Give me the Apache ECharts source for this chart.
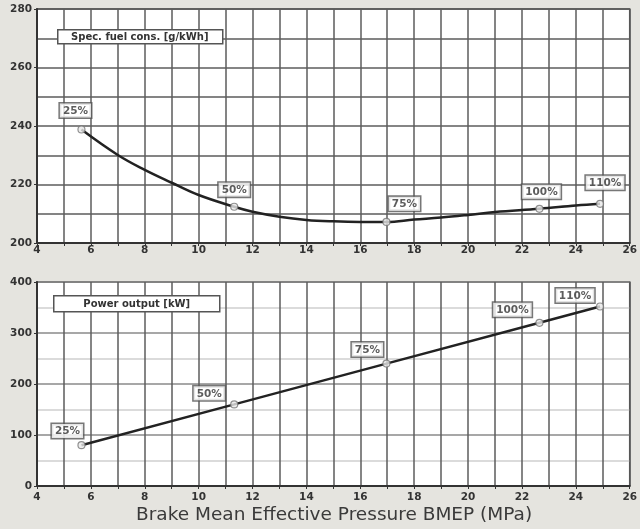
<!DOCTYPE html>
<html><head><meta charset="utf-8">
<script src="https://cdn.jsdelivr.net/npm/echarts@6/dist/echarts.min.js"></script>
<style>html,body{margin:0;padding:0;background:#e5e4df;}#c{width:640px;height:529px;}</style>
</head><body><div id="c"></div>
<script>
// ---- data ----
const loadLabels = ['25%', '50%', '75%', '100%', '110%'];
const bmepPoints = [5.65, 11.32, 16.97, 22.65, 24.9];
const sfcPoints = [238.8, 212.4, 207.2, 211.7, 213.4];
const powerPoints = [80, 160, 240, 320, 352];
// fuel-consumption curve
const sfcCurveX = [5.65, 7, 8, 9, 10, 11.32, 12, 13, 14, 15, 16, 16.97, 18, 19, 20, 21, 22.65, 24, 24.9];
const sfcCurveY = [238.8, 230.1, 225.0, 220.6, 216.4, 212.4, 210.7, 209.0, 207.9, 207.4, 207.2, 207.2, 208.0, 208.7, 209.6, 210.6, 211.7, 212.8, 213.4];
const xTicks = [4, 6, 8, 10, 12, 14, 16, 18, 20, 22, 24, 26];
const sfcTicks = [200, 220, 240, 260, 280];
const powerTicks = [0, 100, 200, 300, 400];

// ---- layout (label offsets) ----
const topOffsets = [[-6, -8], [0, -6], [18, -7], [2, -6], [5, -10]];
const botOffsets = [[-14, -3], [-25, 0], [-19, -3], [-27, -2], [-25, 0]];

const labelFont = {fontFamily: 'DejaVu Sans', fontWeight: 'bold', fontSize: 10.5, color: '#333'};
function pointData(ys, offs) {
  return bmepPoints.map((x, i) => ({
    value: [x, ys[i]],
    label: {offset: offs[i]}
  }));
}
const pointLabel = {
  show: true, position: 'top', distance: 0,
  formatter: p => loadLabels[p.dataIndex],
  backgroundColor: '#fff', borderColor: '#555', borderWidth: 1.5,
  padding: [1, 3, 0, 3], lineHeight: 13, ...labelFont, fontSize: 10.5
};
const gridDark = '#5c5c5c';
function xAxis(gi, margin) {
  return {
    type: 'value', gridIndex: gi, min: xTicks[0], max: xTicks[xTicks.length - 1], interval: 2,
    axisLine: {show: true, onZero: false, lineStyle: {color: '#333', width: 2}},
    axisTick: {show: true, length: 3, lineStyle: {color: '#333'}},
    minorTick: {show: true, splitNumber: 2, length: 3, lineStyle: {color: '#333'}},
    splitLine: {show: true, lineStyle: {color: gridDark, width: 1.5}},
    minorSplitLine: {show: true, lineStyle: {color: gridDark, width: 1.5}},
    axisLabel: {margin: margin, ...labelFont, fontSize: 10.5}
  };
}
function yAxis(gi, ticks, majorColor, minorColor) {
  return {
    type: 'value', gridIndex: gi, min: ticks[0], max: ticks[ticks.length - 1],
    interval: ticks[1] - ticks[0],
    axisLine: {show: true, onZero: false, lineStyle: {color: '#333', width: 2}},
    axisTick: {show: true, length: 3, lineStyle: {color: '#333'}},
    minorTick: {show: false, splitNumber: 2},
    splitLine: {show: true, lineStyle: {color: majorColor, width: 1.5}},
    minorSplitLine: {show: true, lineStyle: {color: minorColor, width: 1.5}},
    axisLabel: {margin: 5, ...labelFont, fontSize: 10.5}
  };
}
const chart = echarts.init(document.getElementById('c'), null, {renderer: 'canvas'});
chart.setOption({
  backgroundColor: '#e5e4df',
  animation: false,
  grid: [
    {left: 37, right: 8, top: 9, height: 234, show: true, backgroundColor: '#fff', borderColor: '#444', borderWidth: 1.5},
    {left: 37, right: 7, top: 282, height: 204, show: true, backgroundColor: '#fff', borderColor: '#444', borderWidth: 1.5}
  ],
  xAxis: [xAxis(0, 2), xAxis(1, 6)],
  yAxis: [yAxis(0, sfcTicks, gridDark, gridDark), yAxis(1, powerTicks, '#8a8a8a', '#cfcfcf')],
  graphic: [
    {type: 'group', left: 57, top: 29, z: 20, children: [
      {type: 'rect', z: 20, shape: {x: 0, y: 0, width: 165, height: 14}, style: {fill: '#fff', stroke: '#555', lineWidth: 1.5}},
      {type: 'text', z: 21, x: 82, y: 7.5, style: {text: 'Spec. fuel cons. [g/kWh]', align: 'center', verticalAlign: 'middle', font: 'bold 10px "DejaVu Sans"', fill: '#333'}}
    ]},
    {type: 'group', left: 53, top: 295, z: 20, children: [
      {type: 'rect', z: 20, shape: {x: 0, y: 0, width: 166, height: 16}, style: {fill: '#fff', stroke: '#555', lineWidth: 1.5}},
      {type: 'text', z: 21, x: 83, y: 8.5, style: {text: 'Power output [kW]', align: 'center', verticalAlign: 'middle', font: 'bold 10px "DejaVu Sans"', fill: '#333'}}
    ]},
    {type: 'text', left: 136, top: 506, style: {text: 'Brake Mean Effective Pressure BMEP (MPa)', font: '18.5px "DejaVu Sans"', fill: '#3a3a3a'}}
  ],
  series: [
    {type: 'line', xAxisIndex: 0, yAxisIndex: 0, smooth: 0.4, showSymbol: false,
     data: sfcCurveX.map((x, i) => [x, sfcCurveY[i]]),
     lineStyle: {color: '#222', width: 2.5}, z: 3},
    {type: 'scatter', xAxisIndex: 0, yAxisIndex: 0, symbol: 'circle', symbolSize: 7,
     data: pointData(sfcPoints, topOffsets),
     itemStyle: {color: '#e8e8e8', borderColor: '#777', borderWidth: 1.2},
     label: pointLabel, z: 4},
    {type: 'line', xAxisIndex: 1, yAxisIndex: 1, showSymbol: false,
     data: bmepPoints.map((x, i) => [x, powerPoints[i]]),
     lineStyle: {color: '#222', width: 2.5}, z: 3},
    {type: 'scatter', xAxisIndex: 1, yAxisIndex: 1, symbol: 'circle', symbolSize: 7,
     data: pointData(powerPoints, botOffsets),
     itemStyle: {color: '#e8e8e8', borderColor: '#777', borderWidth: 1.2},
     label: pointLabel, z: 4}
  ]
});
</script>
</body></html>
